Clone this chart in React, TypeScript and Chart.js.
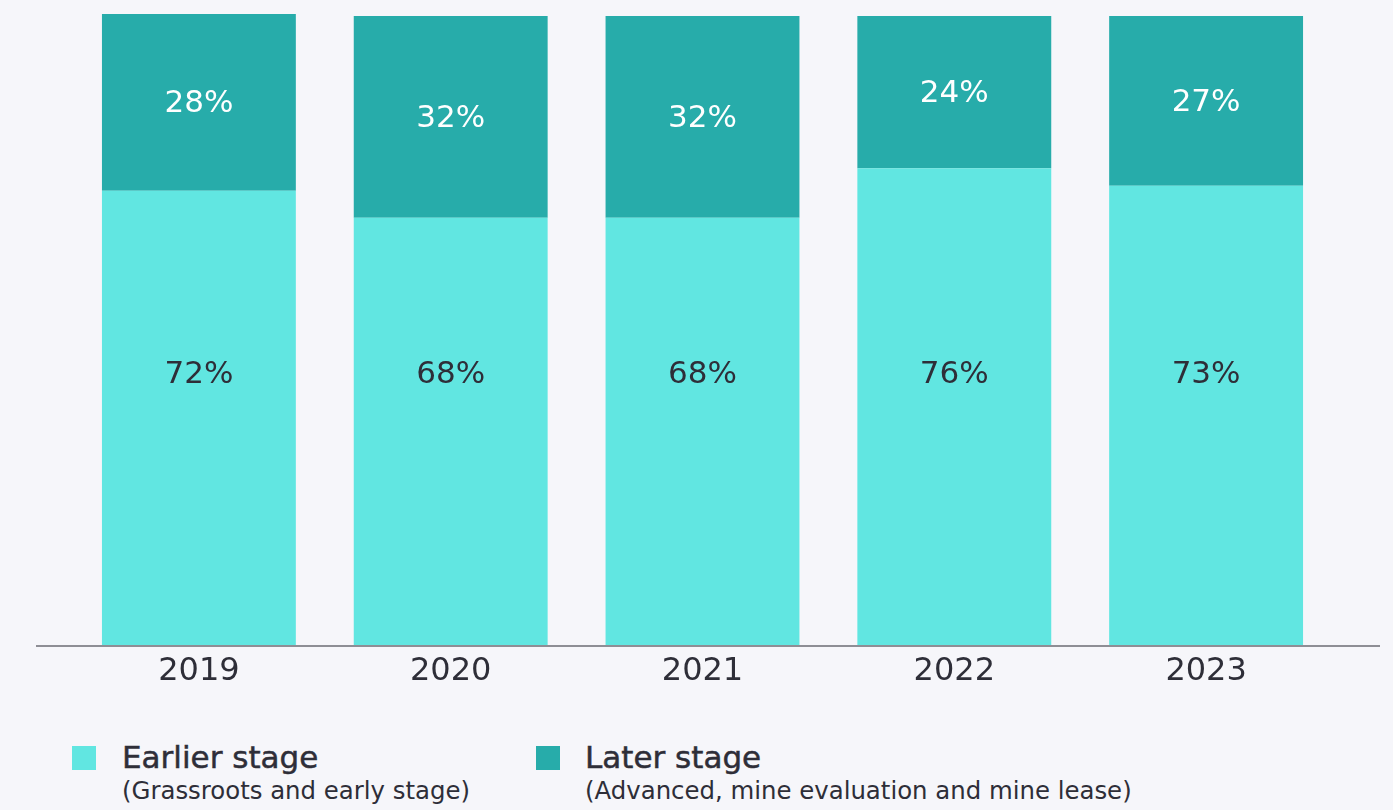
import React, { useEffect, useRef } from "react";
import { Chart, registerables } from "chart.js";

Chart.register(...registerables);

const categories = ["2019", "2020", "2021", "2022", "2023"];
const earlierStage = [72.2, 67.9, 67.9, 75.8, 73.0];
const laterStage = [28.1, 32.1, 32.1, 24.2, 27.0];
const seriesNames = ["Earlier stage", "Later stage"];
const seriesNotes = ["(Grassroots and early stage)", "(Advanced, mine evaluation and mine lease)"];

const EARLIER_COLOR = "#61E6E1";
const LATER_COLOR = "#27ACAA";
const TEXT_COLOR = "#2E2E38";
const BG = "#F6F6FA";
const FONT = "'DejaVu Sans', 'Noto Sans', sans-serif";
const EARLIER_LABEL_LEVEL = 43.2;

const labelPlugin = {
  id: "segLabels",
  afterDatasetsDraw(chart: any) {
    const ctx = chart.ctx;
    const y = chart.scales.y;
    const area = chart.chartArea;
    ctx.save();
    ctx.strokeStyle = "#8E8E95";
    ctx.lineWidth = 2;
    ctx.beginPath();
    ctx.moveTo(area.left - 37, area.bottom + 1);
    ctx.lineTo(area.right + 48, area.bottom + 1);
    ctx.stroke();

    ctx.font = `31px ${FONT}`;
    ctx.textAlign = "center";
    ctx.textBaseline = "middle";
    const m0 = chart.getDatasetMeta(0);
    const m1 = chart.getDatasetMeta(1);
    m0.data.forEach((bar: any, i: number) => {
      ctx.fillStyle = TEXT_COLOR;
      ctx.fillText(Math.round(earlierStage[i]) + "%", bar.x, y.getPixelForValue(EARLIER_LABEL_LEVEL) + 2);
    });
    m1.data.forEach((bar: any, i: number) => {
      ctx.fillStyle = "#FFFFFF";
      ctx.fillText(Math.round(laterStage[i]) + "%", bar.x, (bar.y + bar.base) / 2 + 2);
    });
    ctx.restore();
  },
};

function ChartCanvas() {
  const ref = useRef<HTMLCanvasElement | null>(null);
  useEffect(() => {
    if (!ref.current) return;
    const chart = new Chart(ref.current, {
      type: "bar",
      data: {
        labels: categories,
        datasets: [
          {
            label: seriesNames[0],
            data: earlierStage,
            backgroundColor: EARLIER_COLOR,
            borderWidth: 0,
            categoryPercentage: 1,
            barPercentage: 0.77,
          },
          {
            label: seriesNames[1],
            data: laterStage,
            backgroundColor: LATER_COLOR,
            borderWidth: 0,
            categoryPercentage: 1,
            barPercentage: 0.77,
          },
        ],
      },
      options: {
        animation: false,
        responsive: false,
        maintainAspectRatio: false,
        layout: { padding: { left: 73, right: 61, top: 14, bottom: 0 } },
        plugins: { legend: { display: false }, tooltip: { enabled: false } },
        scales: {
          x: {
            stacked: true,
            grid: { display: false, drawTicks: false },
            border: { display: false },
            ticks: {
              color: TEXT_COLOR,
              font: { family: FONT, size: 32 },
              padding: 7,
            },
            afterFit: (scale: any) => {
              scale.height = 55;
            },
          },
          y: {
            stacked: true,
            display: false,
            min: 0,
            max: 100.3,
          },
        },
      },
      plugins: [labelPlugin],
    });
    return () => chart.destroy();
  }, []);
  return <canvas ref={ref} width={1393} height={700} style={{ position: "absolute", left: 0, top: 0, width: 1393, height: 700 }} />;
}

export default function App() {
  const legendLeft = [72, 536];
  const textLeft = [122, 585];
  const colors = [EARLIER_COLOR, LATER_COLOR];
  return (
    <div style={{ position: "fixed", left: 0, top: 0, width: 1393, height: 810, background: BG, overflow: "hidden", fontFamily: FONT }}>
      <ChartCanvas />
      {seriesNames.map((name, i) => (
        <React.Fragment key={name}>
          <div style={{ position: "absolute", left: legendLeft[i], top: 746, width: 24, height: 24, background: colors[i] }} />
          <div style={{ position: "absolute", left: textLeft[i], top: 742, fontSize: 31, lineHeight: "31px", fontWeight: 400, color: TEXT_COLOR, whiteSpace: "nowrap", WebkitTextStroke: "0.5px " + TEXT_COLOR }}>{name}</div>
          <div style={{ position: "absolute", left: textLeft[i], top: 779, fontSize: 24.4, lineHeight: "24px", fontWeight: 400, color: TEXT_COLOR, whiteSpace: "nowrap" }}>{seriesNotes[i]}</div>
        </React.Fragment>
      ))}
    </div>
  );
}
